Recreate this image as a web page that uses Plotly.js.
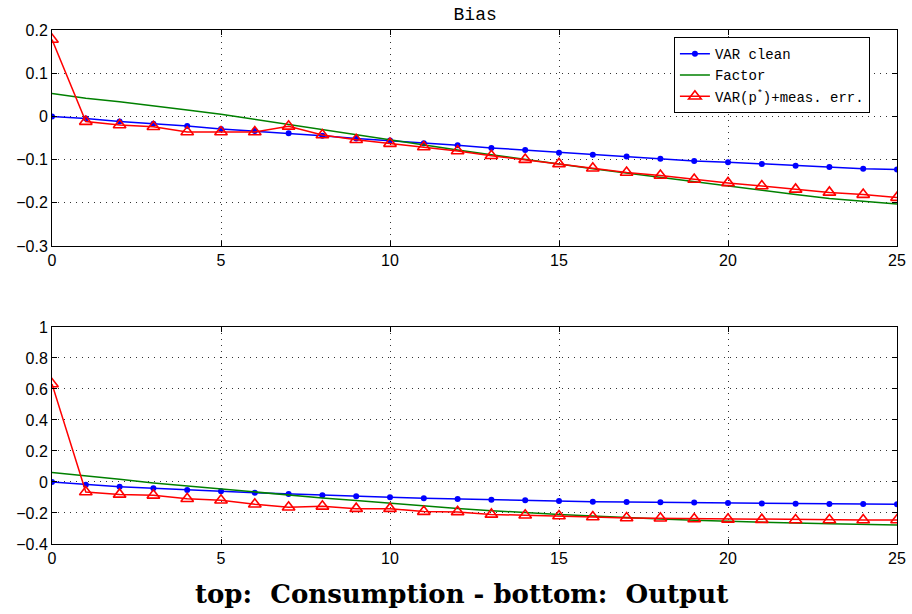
<!DOCTYPE html>
<html>
<head>
<meta charset="utf-8">
<script src="https://cdn.plot.ly/plotly-3.0.1.min.js"></script>
<style>html,body{margin:0;padding:0;background:#fff;}#chart{width:912px;height:614px;}</style>
</head>
<body>
<div id="chart"></div>
<script>
// Horizons
const horizons = [0,1,2,3,4,5,6,7,8,9,10,11,12,13,14,15,16,17,18,19,20,21,22,23,24,25];

// Top panel: Consumption
const consVarClean = [0,-0.005,-0.012,-0.017,-0.022,-0.029,-0.034,-0.039,-0.045,-0.051,-0.056,-0.062,-0.067,-0.073,-0.078,-0.084,-0.089,-0.093,-0.098,-0.103,-0.106,-0.110,-0.114,-0.117,-0.121,-0.123];
const consFactor = [0.053,0.042,0.034,0.025,0.015,0.005,-0.007,-0.019,-0.030,-0.042,-0.054,-0.066,-0.078,-0.089,-0.099,-0.110,-0.121,-0.131,-0.141,-0.152,-0.162,-0.172,-0.181,-0.190,-0.197,-0.203];
const consVarMeas = [0.178,-0.012,-0.020,-0.024,-0.036,-0.036,-0.036,-0.023,-0.043,-0.054,-0.063,-0.071,-0.080,-0.091,-0.100,-0.110,-0.120,-0.130,-0.137,-0.146,-0.154,-0.161,-0.169,-0.176,-0.181,-0.188];

// Bottom panel: Output
const outVarClean = [0,-0.017,-0.030,-0.041,-0.052,-0.060,-0.069,-0.077,-0.086,-0.092,-0.099,-0.105,-0.110,-0.114,-0.118,-0.123,-0.127,-0.129,-0.131,-0.133,-0.135,-0.138,-0.140,-0.142,-0.142,-0.144];
const outFactor = [0.062,0.041,0.017,-0.006,-0.026,-0.045,-0.067,-0.084,-0.103,-0.120,-0.138,-0.153,-0.171,-0.185,-0.198,-0.209,-0.219,-0.230,-0.239,-0.247,-0.254,-0.260,-0.265,-0.269,-0.273,-0.277];
const outVarMeas = [0.632,-0.065,-0.080,-0.086,-0.108,-0.118,-0.144,-0.163,-0.157,-0.172,-0.172,-0.191,-0.193,-0.209,-0.215,-0.219,-0.226,-0.232,-0.234,-0.239,-0.241,-0.243,-0.245,-0.245,-0.245,-0.245];

const seriesNames = ['VAR clean', 'Factor', 'VAR(p<sup>*</sup>)+meas. err.'];
const titleText = 'Bias';
const captionText = 'top:  Consumption - bottom:  Output';

const blue = '#0000ff', green = '#008000', red = '#ff0000';

function mk(y, idx, xa, ya, show) {
  const base = {x: horizons, y: y, xaxis: xa, yaxis: ya, name: seriesNames[idx], showlegend: show, legendgroup: 'g' + idx};
  if (idx === 0) return Object.assign(base, {mode: 'lines+markers', line: {color: blue, width: 1.5}, marker: {symbol: 'circle', size: 6, color: blue}});
  if (idx === 1) return Object.assign(base, {mode: 'lines', line: {color: green, width: 1.5}});
  return Object.assign(base, {mode: 'lines+markers', line: {color: red, width: 1.5}, marker: {symbol: 'triangle-up-open', size: 11, color: red, line: {width: 1.6, color: red}}});
}

const data = [
  mk(consVarClean, 0, 'x', 'y', true),
  mk(consFactor, 1, 'x', 'y', true),
  mk(consVarMeas, 2, 'x', 'y', true),
  mk(outVarClean, 0, 'x2', 'y2', false),
  mk(outFactor, 1, 'x2', 'y2', false),
  mk(outVarMeas, 2, 'x2', 'y2', false)
];

const tickFont = {family: 'Liberation Sans, Arial, sans-serif', size: 16, color: '#000'};
const axCommon = {
  showline: true, linecolor: '#000', linewidth: 1, mirror: 'ticks',
  ticks: 'inside', ticklen: 5, tickcolor: '#000', tickwidth: 1,
  showgrid: true, gridcolor: '#333', griddash: '1px,5px', gridwidth: 1,
  zeroline: false, tickfont: tickFont, fixedrange: true
};

const layout = {
  width: 912, height: 614,
  margin: {l: 52, r: 15, t: 30, b: 70},
  paper_bgcolor: '#fff', plot_bgcolor: '#fff',
  title: {text: titleText, font: {family: 'Liberation Mono, Courier New, monospace', size: 18, color: '#000'}, x: 0.521, xanchor: 'center', y: 0.977, yanchor: 'middle'},
  xaxis: Object.assign({}, axCommon, {domain: [0, 1], range: [0, 25], dtick: 5, tick0: 0, anchor: 'y'}),
  yaxis: Object.assign({}, axCommon, {domain: [0.5798, 1], range: [-0.3, 0.2], dtick: 0.1, tick0: 0, anchor: 'x'}),
  xaxis2: Object.assign({}, axCommon, {domain: [0, 1], range: [0, 25], dtick: 5, tick0: 0, anchor: 'y2'}),
  yaxis2: Object.assign({}, axCommon, {domain: [0, 0.4222], range: [-0.4, 1], dtick: 0.2, tick0: 0, anchor: 'x2'}),
  showlegend: true,
  legend: {x: 0.736, y: 0.986, xanchor: 'left', yanchor: 'top', bgcolor: '#fff', bordercolor: '#000', borderwidth: 1,
           font: {family: 'Liberation Mono, Courier New, monospace', size: 14, color: '#000'}, tracegroupgap: 0, itemwidth: 30},
  annotations: [{
    text: '<b>' + captionText + '</b>', xref: 'paper', yref: 'paper', x: 0.485, y: -0.097, xanchor: 'center', yanchor: 'middle',
    showarrow: false, font: {family: 'DejaVu Serif, Liberation Serif, serif', size: 26, color: '#000'}
  }]
};

Plotly.newPlot('chart', data, layout, {displayModeBar: false, staticPlot: true});
</script>
</body>
</html>
